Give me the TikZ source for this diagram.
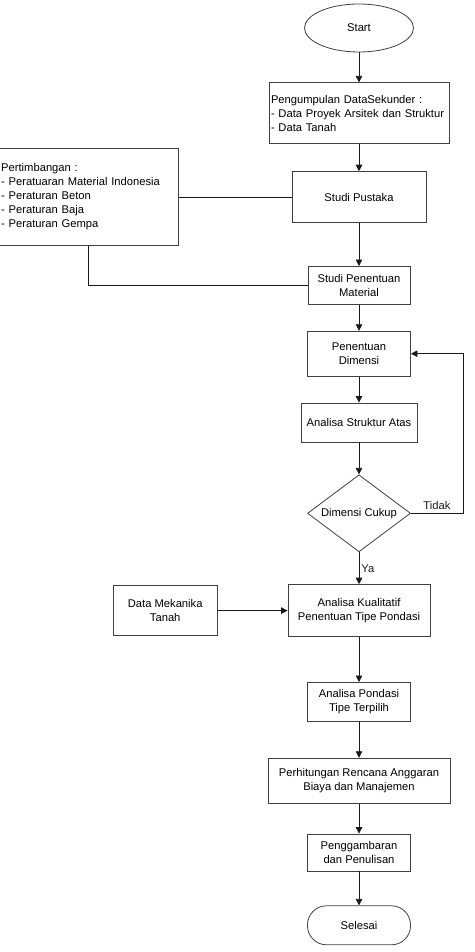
\documentclass[tikz,border=0pt]{standalone}
\usepackage{fontspec}
\setmainfont{Liberation Sans}
\usepackage{tikz}
\usetikzlibrary{arrows.meta}
\usetikzlibrary{positioning}
\usetikzlibrary{shapes.geometric}
\colorlet{myline}{black!75}
\colorlet{myarrow}{black!90}
\newcommand\flowfont{\fontsize{11.2}{14}\selectfont\hyphenpenalty=10000}
\def\boxw{103pt}
\tikzset{
  >={Triangle[length=6.5pt,width=6.5pt]}, % filled triangle heads
  box/.style={rectangle,draw=myline,line width=0.8pt,align=center,inner sep=3pt,font=\flowfont},
  box list/.style={box,align=left,inner sep=2pt},
  box end/.style={box,rounded corners=19pt},
  box start/.style={box,ellipse},
  box ask/.style={box,diamond,aspect=1.34,inner sep=0pt},
  connect/.style={line width=0.8pt,myarrow},
  connect arrow/.style={->,line width=0.8pt,myarrow}
}

\begin{document}
\begin{tikzpicture}[
				x=1pt,y=-1pt,
				label/.style={font=\flowfont,inner sep=2pt},
			]
	
			\useasboundingbox (0,0) rectangle (474,952);
	
			\node[box start, minimum width=109pt, minimum height=48pt] (start) at (359,28) {Start};
			\node[box list, text width=176pt, minimum height=61pt, below=30pt of start] (kumpul) {Pengumpulan DataSekunder :\\- Data Proyek Arsitek dan Struktur\\- Data Tanah};
			\node[box, minimum width=134pt, minimum height=51pt, below=27pt of kumpul] (pustaka) {Studi Pustaka};
			\node[box, minimum width=102pt, minimum height=38pt, below=43pt of pustaka] (material) {Studi Penentuan\\Material};
			\node[box, minimum width=\boxw, minimum height=45pt, below=26pt of material] (dimensi) {Penentuan\\Dimensi};
			\node[box, minimum width=116pt, minimum height=39pt, below=26pt of dimensi] (atas) {Analisa Struktur Atas};
			\node[box ask, minimum width=\boxw, minimum height=77pt, below=32pt of atas] (cukup) {Dimensi Cukup};
			\node[box, minimum width=142pt, minimum height=52pt, below=32pt of cukup] (kualitatif) {Analisa Kualitatif\\Penentuan Tipe Pondasi};
			\node[box, minimum width=\boxw, minimum height=39pt, below=45pt of kualitatif] (pondasi) {Analisa Pondasi\\Tipe Terpilih};
			\node[box, minimum width=182pt, minimum height=45pt, below=36pt of pondasi] (anggaran) {Perhitungan Rencana Anggaran\\Biaya dan Manajemen};
			\node[box, minimum width=\boxw, minimum height=37pt, below=30pt of anggaran] (gambar) {Penggambaran\\dan Penulisan};
			\node[box end, minimum width=\boxw, minimum height=39pt, below=34pt of gambar] (selesai) {Selesai};
	
			% side inputs
			\node[box list, text width=175pt, minimum height=97pt, left=113pt of pustaka] (timbang) {Pertimbangan :\\- Peratuaran Material Indonesia\\- Peraturan Beton\\- Peraturan Baja\\- Peraturan Gempa};
			\node[box, minimum width=104pt, minimum height=50pt, left=70pt of kualitatif] (mekanika) {Data Mekanika\\Tanah};
	
			\foreach \source/\dest in {start/kumpul,kumpul/pustaka,pustaka/material,material/dimensi,dimensi/atas,atas/cukup,kualitatif/pondasi,pondasi/anggaran,anggaran/gambar,gambar/selesai}
			\draw[connect arrow] (\source) -- (\dest);
	
			\draw[connect arrow] (cukup) -- node[label, right] {Ya} (kualitatif);
			\draw[connect arrow] (cukup.east) -- node[label, above=1pt] {Tidak} ++(52pt,0) |- (dimensi);
	
			\draw[connect] (timbang) -- (pustaka);
			\draw[connect] (timbang) |- (material);
			\draw[connect arrow] (mekanika) -- (kualitatif);
		\end{tikzpicture}
\end{document}
